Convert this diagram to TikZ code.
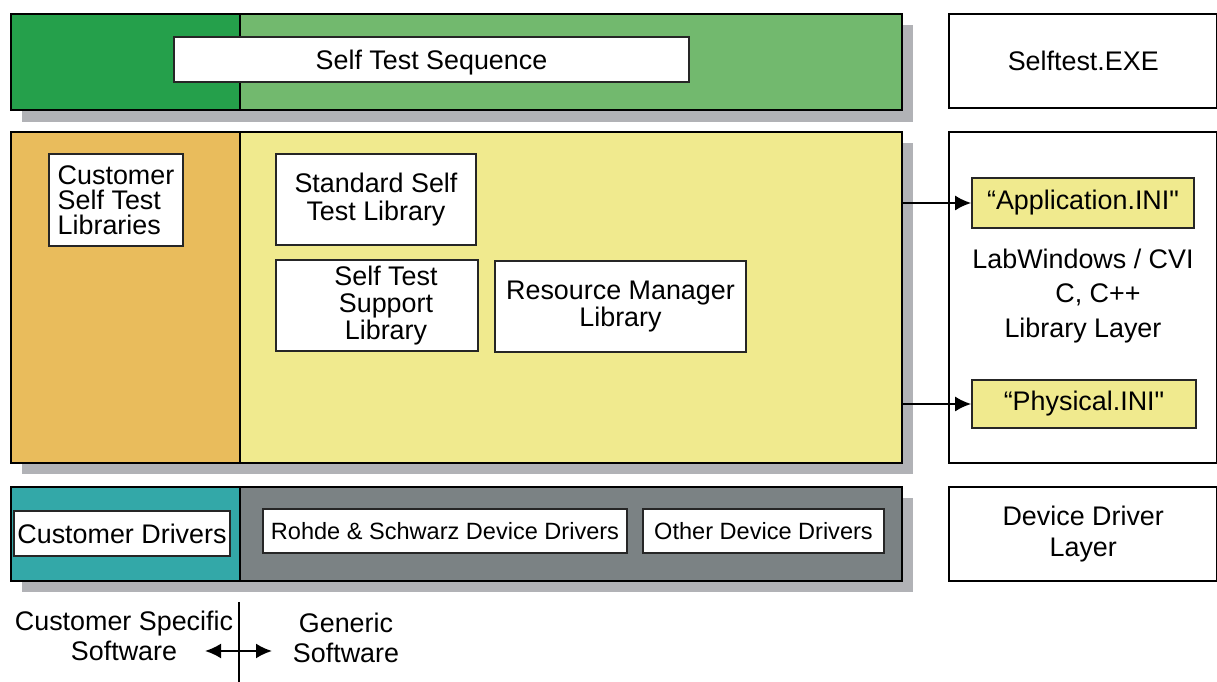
\documentclass[tikz,border=0pt]{standalone}
\usepackage{fontspec}
\setmainfont{Liberation Sans}
\newfontfamily\straightq{Liberation Sans}[Ligatures=TeXOff]
\usetikzlibrary{arrows.meta}
\definecolor{greendark}{RGB}{37,160,75}
\definecolor{greenlight}{RGB}{114,185,110}
\definecolor{orangelib}{RGB}{233,188,92}
\definecolor{yellowlib}{RGB}{240,234,142}
\definecolor{tealdrv}{RGB}{51,168,168}
\definecolor{greydrv}{RGB}{123,130,132}
\definecolor{shadowgrey}{RGB}{177,178,182}
\tikzset{
  layer/.style={draw, line width=0.7pt, anchor=north west, inner sep=0pt, align=center,
    font=\fontsize{7.65}{8.8}\selectfont},
  box/.style={draw=black!85, line width=0.45pt, fill=white, inner sep=0pt, align=center,
    font=\fontsize{7.65}{7.8}\selectfont},
  smallbox/.style={box, font=\fontsize{6.7}{7.8}\selectfont},
  plain/.style={inner sep=0pt, align=center, font=\fontsize{7.65}{8.5}\selectfont}
}
\begin{document}
\begin{tikzpicture}[>={Latex[length=0.16cm,width=0.15cm]}]
\useasboundingbox (0,0) rectangle (12.17,-6.82);
% shadows
\fill[shadowgrey] (0.22,-0.25) rectangle (9.13,-1.22);
\fill[shadowgrey] (0.22,-1.43) rectangle (9.13,-4.74);
\fill[shadowgrey] (0.22,-4.98) rectangle (9.13,-5.92);
% layers
\node[layer, fill=greendark, minimum width=2.29cm, minimum height=0.96cm] (seqL) at (0.10,-0.13) {};
\node[layer, fill=greenlight, minimum width=6.62cm, minimum height=0.96cm] (seqR) at (2.39,-0.13) {};
\node[layer, fill=orangelib, minimum width=2.29cm, minimum height=3.31cm] (libL) at (0.10,-1.31) {};
\node[layer, fill=yellowlib, minimum width=6.62cm, minimum height=3.31cm] (libR) at (2.39,-1.31) {};
\node[layer, fill=tealdrv, minimum width=2.29cm, minimum height=0.94cm] (drvL) at (0.10,-4.86) {};
\node[layer, fill=greydrv, minimum width=6.62cm, minimum height=0.94cm] (drvR) at (2.39,-4.86) {};
% right column
\node[layer, fill=white, minimum width=2.68cm, minimum height=0.94cm] (exe) at (9.48,-0.13) {Selftest.EXE};
\node[layer, fill=white, minimum width=2.68cm, minimum height=3.31cm] (labwin) at (9.48,-1.31) {};
\node[layer, fill=white, minimum width=2.68cm, minimum height=0.94cm] (ddl) at (9.48,-4.86) {Device Driver\\Layer};
% boxes
\node[box, minimum width=5.15cm, minimum height=0.45cm, text depth=0pt] (seq) at (4.315,-0.595) {Self Test Sequence};
\node[box, minimum width=1.34cm, minimum height=0.92cm, align=left, font=\fontsize{7.65}{7.1}\selectfont] (custlib) at (1.16,-2.00) {Customer\\Self Test\\Libraries};
\node[box, minimum width=2.00cm, minimum height=0.91cm] (stdlib) at (3.76,-1.995) {Standard Self\\Test Library};
\node[box, minimum width=2.02cm, minimum height=0.91cm] (suplib) at (3.77,-3.055) {\hspace*{0.18cm}Self Test\\\hspace*{0.18cm}Support\\\hspace*{0.18cm}Library};
\node[box, minimum width=2.51cm, minimum height=0.91cm] (resmgr) at (6.205,-3.065) {Resource Manager\\Library};
\node[box, fill=yellowlib, minimum width=2.22cm, minimum height=0.50cm] (appini) at (10.83,-2.03) {``Application.INI{\straightq "}};
\node[box, fill=yellowlib, minimum width=2.24cm, minimum height=0.48cm] (physini) at (10.84,-4.04) {``Physical.INI{\straightq "}};
\node[plain, font=\fontsize{7.65}{9.7}\selectfont] (lwtext) at (10.83,-2.96) {LabWindows / CVI\\\hspace*{0.3cm}C, C++\\Library Layer};
\node[box, minimum width=2.16cm, minimum height=0.45cm] (custdrv) at (1.22,-5.335) {Customer Drivers};
\node[smallbox, minimum width=3.64cm, minimum height=0.44cm] (rsdrv) at (4.45,-5.31) {Rohde \& Schwarz Device Drivers};
\node[smallbox, minimum width=2.41cm, minimum height=0.44cm] (otherdrv) at (7.635,-5.31) {Other Device Drivers};
% ini arrows
\draw[->, line width=0.6pt] (libR.east |- appini.west) -- (appini.west);
\draw[->, line width=0.6pt] (libR.east |- physini.west) -- (physini.west);
% customer / generic split
\node[plain] (custsw) at (1.24,-6.36) {Customer Specific\\Software};
\node[plain] (gensw) at (3.46,-6.375) {Generic\\Software};
\coordinate (divtop) at (2.39,-6.02);
\coordinate (divbot) at (2.39,-6.82);
\coordinate (arrL) at (2.05,-6.51);
\coordinate (arrR) at (2.72,-6.51);
\draw[line width=0.6pt] (divtop) -- (divbot);
\draw[<->, line width=0.6pt] (arrL) -- (arrR);
\end{tikzpicture}
\end{document}
